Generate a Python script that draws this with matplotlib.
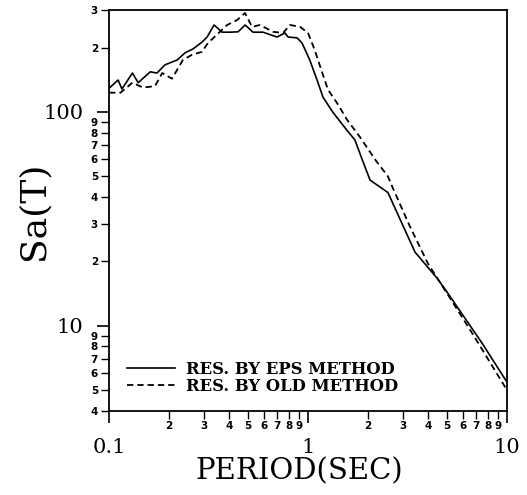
import matplotlib
matplotlib.use('Agg')
import numpy as np
import matplotlib.pyplot as plt
from matplotlib.ticker import LogLocator, FuncFormatter

# spectra (period in sec, Sa)
eps_T = [0.100, 0.111, 0.116, 0.131, 0.140, 0.161, 0.174, 0.191, 0.220, 0.241,
         0.264, 0.293, 0.311, 0.337, 0.370, 0.406, 0.445, 0.483, 0.529, 0.594,
         0.698, 0.766, 0.793, 0.881, 0.933, 1.02, 1.11, 1.19, 1.34, 1.57,
         1.72, 1.87, 2.05, 2.52, 3.45, 4.45, 4.99, 7.49, 10.0]
eps_Sa = [129, 141, 128, 152, 137, 154, 152, 166, 175, 189,
          197, 212, 224, 255, 236, 236, 237, 255, 236, 236,
          224, 234, 224, 222, 210, 175, 141, 117, 99, 82,
          74, 60, 48, 42, 22.1, 16.7, 14.4, 8.3, 5.45]

old_T = [0.100, 0.114, 0.131, 0.148, 0.170, 0.185, 0.207, 0.235, 0.261, 0.293,
         0.314, 0.361, 0.392, 0.440, 0.482, 0.523, 0.574, 0.667, 0.749, 0.812,
         0.912, 1.00, 1.08, 1.18, 1.26, 1.40, 1.57, 1.83, 2.17, 2.52,
         2.67, 3.26, 4.01, 4.99, 6.75, 10.0]
old_Sa = [123, 123, 137, 130, 132, 152, 143, 175, 185, 191,
          210, 237, 255, 269, 290, 250, 255, 237, 234, 255,
          250, 234, 195, 152, 127, 110, 92, 76, 60, 50,
          44, 29, 19.5, 14.2, 9.1, 5.0]

labels = ['RES. BY EPS METHOD', 'RES. BY OLD METHOD']

plt.rcParams['font.family'] = 'DejaVu Serif'

fig = plt.figure(figsize=(5.27, 4.95), dpi=100)
ax = fig.add_axes([0.207, 0.170, 0.755, 0.810])

ax.plot(eps_T, eps_Sa, color='black', lw=1.2, label=labels[0])
ax.plot(old_T, old_Sa, color='black', lw=1.3, linestyle=(0, (3.5, 2.2)), label=labels[1])

ax.set_xscale('log')
ax.set_yscale('log')
ax.set_xlim(0.1, 10)
ax.set_ylim(4, 300)

for axis in (ax.xaxis, ax.yaxis):
    axis.set_major_locator(LogLocator(base=10))
    axis.set_minor_locator(LogLocator(base=10, subs=range(2, 10)))
    axis.set_major_formatter(FuncFormatter(lambda v, p: f'{v:g}'))
    axis.set_minor_formatter(FuncFormatter(
        lambda v, p: str(int(round(v / 10 ** np.floor(np.log10(v) + 1e-9))))))

ax.tick_params(which='both', direction='out', right=False, top=False, color='black')
ax.tick_params(which='major', length=8.5, width=1.2, labelsize=15)
ax.tick_params(which='minor', length=6, width=1.0, labelsize=7.5)
ax.tick_params(axis='x', which='major', pad=11)
ax.tick_params(axis='x', which='minor', pad=1.5)
ax.tick_params(axis='y', which='major', pad=10)
ax.tick_params(axis='y', which='minor', pad=2)

fig.canvas.draw()
for lab in ax.xaxis.get_minorticklabels() + ax.yaxis.get_minorticklabels():
    lab.set_fontfamily('DejaVu Sans')
    lab.set_fontweight('bold')

for s in ax.spines.values():
    s.set_linewidth(1.3)

ax.set_xlabel('PERIOD(SEC)', fontsize=21)
ax.xaxis.set_label_coords(0.477, -0.117)
ax.set_ylabel('Sa(T)', fontsize=26)
ax.yaxis.set_label_coords(-0.148, 0.5)

leg = ax.legend(loc='lower left', bbox_to_anchor=(0.045, 0.04), frameon=False,
                borderpad=0, borderaxespad=0, handlelength=2.9, handletextpad=0.7,
                labelspacing=0.0,
                prop={'family': 'DejaVu Serif', 'weight': 'bold', 'size': 11.8})

fig.savefig('out.png', dpi=100)
